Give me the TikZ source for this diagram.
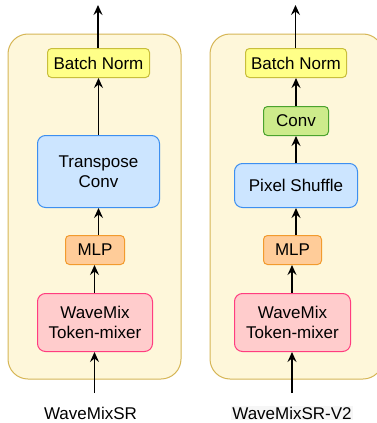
\documentclass[tikz,border=0pt]{standalone}
\usepackage{fontspec}
\setmainfont{Liberation Sans}
\usetikzlibrary{arrows.meta}
\definecolor{contfill}{HTML}{FEF7DA}
\definecolor{contdraw}{HTML}{D6B656}
\definecolor{bnfill}{HTML}{FFFF88}
\definecolor{bndraw}{HTML}{C8BE3C}
\definecolor{bluefill}{HTML}{CCE5FF}
\definecolor{bluedraw}{HTML}{3D8FF0}
\definecolor{orfill}{HTML}{FFCC99}
\definecolor{ordraw}{HTML}{F29B2E}
\definecolor{pkfill}{HTML}{FFCCCC}
\definecolor{pkdraw}{HTML}{FF3D7F}
\definecolor{gnfill}{HTML}{CDEB8B}
\definecolor{gndraw}{HTML}{4BA32E}
\definecolor{lblfill}{HTML}{F6F6F6}
\tikzset{
  x=1pt, y=-1pt,
  txt/.style={font=\fontsize{17}{20}\selectfont, align=center, text=black},
  container/.style={draw=contdraw, fill=contfill, line width=1pt, rounded corners=20pt},
  blk/.style={txt, line width=1pt, inner sep=0pt, anchor=north west},
  bn/.style={blk, draw=bndraw, fill=bnfill, rounded corners=4pt},
  bluebox/.style={blk, draw=bluedraw, fill=bluefill, rounded corners=8pt},
  orbox/.style={blk, draw=ordraw, fill=orfill, rounded corners=4pt},
  pkbox/.style={blk, draw=pkdraw, fill=pkfill, rounded corners=8pt},
  gnbox/.style={blk, draw=gndraw, fill=gnfill, rounded corners=4pt},
  arr/.style={draw=black, line width=1.3pt, -{Stealth[length=10pt,width=9pt,inset=3.5pt]}},
}
\begin{document}
\begin{tikzpicture}
\useasboundingbox (0,0) rectangle (377,423);
\fill[white] (0,0) rectangle (377,423);
% containers
\draw[container] (8,34) rectangle (181,379);
\draw[container] (210,34) rectangle (383,379);
% left column
\node[bn, minimum width=102pt, minimum height=29pt] (bn1) at (47,48) {Batch Norm};
\node[bluebox, minimum width=122pt, minimum height=72pt] (tc1) at (37,135) {Transpose\\Conv};
\node[orbox, minimum width=59pt, minimum height=29pt] (mlp1) at (65,235) {MLP};
\node[pkbox, minimum width=115pt, minimum height=58pt] (wm1) at (37,293) {WaveMix\\Token-mixer};
\coordinate (out1) at (98,5);
\coordinate (in1) at (94.5,393);
\node[txt] (lab1) at (90.5,413) {WaveMixSR};
% right column
\node[bn, minimum width=101pt, minimum height=29pt] (bn2) at (245,48) {Batch Norm};
\node[gnbox, minimum width=65pt, minimum height=29pt] (cv2) at (263,106) {Conv};
\node[bluebox, minimum width=123pt, minimum height=44pt] (ps2) at (234,163) {Pixel Shuffle};
\node[orbox, minimum width=58pt, minimum height=29pt] (mlp2) at (263,235) {MLP};
\node[pkbox, minimum width=116pt, minimum height=58pt] (wm2) at (234,293) {WaveMix\\Token-mixer};
\coordinate (out2) at (295.5,5);
\coordinate (in2) at (292,393);
\node[txt, fill=lblfill, inner sep=1pt] (lab2) at (292,413) {WaveMixSR-V2};
% arrows left
\draw[arr] (in1) -- (in1 |- wm1.south);
\draw[arr] (wm1.north -| in1) -- (mlp1.south -| in1);
\draw[arr] (mlp1.north -| tc1) -- (tc1.south);
\draw[arr] (tc1.north) -- (bn1.south -| tc1);
\draw[arr] (bn1.north -| out1) -- (out1);
% arrows right
\draw[arr] (in2) -- (in2 |- wm2.south);
\draw[arr] (wm2.north -| in2) -- (mlp2.south -| in2);
\draw[arr] (mlp2.north -| ps2) -- (ps2.south);
\draw[arr] (ps2.north) -- (cv2.south -| ps2);
\draw[arr] (cv2.north) -- (bn2.south -| cv2);
\draw[arr] (bn2.north -| out2) -- (out2);
\end{tikzpicture}
\end{document}
